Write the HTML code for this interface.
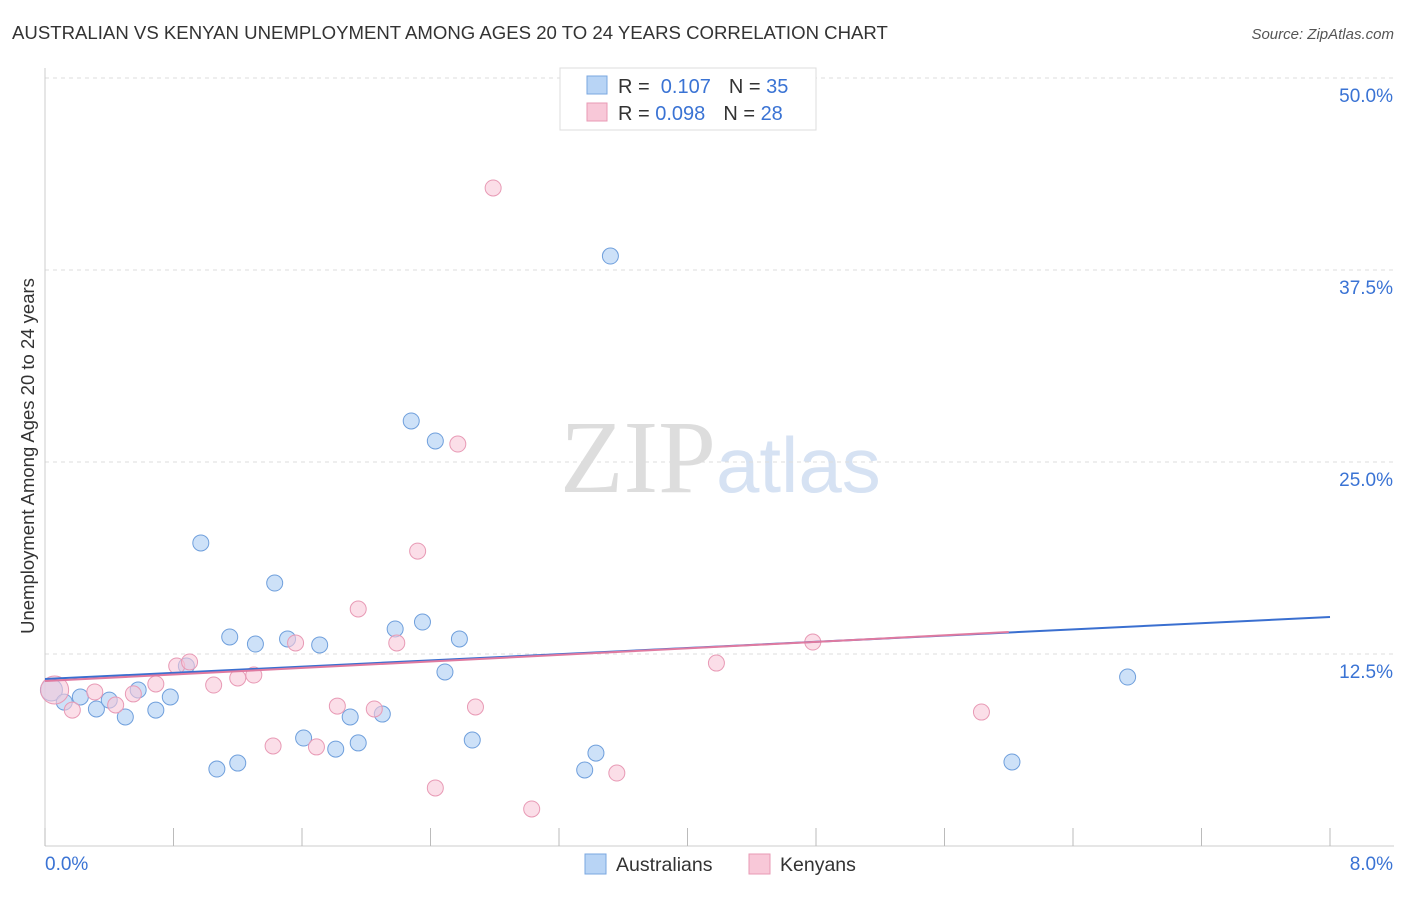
<!DOCTYPE html>
<html><head><meta charset="utf-8"><style>
body{margin:0;background:#fff;font-family:"Liberation Sans",sans-serif;}
</style></head><body>
<svg width="1406" height="892" xmlns="http://www.w3.org/2000/svg">
<text x="12" y="39" font-size="18.6" fill="#333">AUSTRALIAN VS KENYAN UNEMPLOYMENT AMONG AGES 20 TO 24 YEARS CORRELATION CHART</text>
<text x="1394" y="39" font-size="15" fill="#555" font-style="italic" text-anchor="end">Source: ZipAtlas.com</text>
<text x="716" y="492" font-size="104" fill="#ddd" font-family="Liberation Serif,serif" text-anchor="end">ZIP</text>
<text x="716" y="492" font-size="78" fill="#d6e2f3">atlas</text>
<g id="grid"></g>
<g id="axes"></g>
<g id="pts"></g>
<g id="lines"></g>
<text x="34" y="456" font-size="18.5" fill="#333" text-anchor="middle" transform="rotate(-90 34 456)">Unemployment Among Ages 20 to 24 years</text>
<g>
<rect x="560" y="68" width="256" height="62" fill="#fff" stroke="#ddd"/>
<rect x="587" y="76" width="20" height="18" fill="#b8d4f5" stroke="#7aa7e0"/>
<rect x="587" y="103" width="20" height="18" fill="#f8c8d8" stroke="#e89ab5"/>
<text x="618" y="93" font-size="20" fill="#333">R = <tspan fill="#3a73d4">&#160;0.107</tspan><tspan dx="18">N = </tspan><tspan fill="#3a73d4">35</tspan></text>
<text x="618" y="120" font-size="20" fill="#333">R = <tspan fill="#3a73d4">0.098</tspan><tspan dx="18">N = </tspan><tspan fill="#3a73d4">28</tspan></text>
</g>
<g>
<rect x="585" y="854" width="21" height="20" fill="#b8d4f5" stroke="#7aa7e0"/>
<text x="616" y="871" font-size="19.5" fill="#333">Australians</text>
<rect x="749" y="854" width="21" height="20" fill="#f8c8d8" stroke="#e89ab5"/>
<text x="780" y="871" font-size="19.5" fill="#333">Kenyans</text>
</g>
</svg>
<script>
const xTicks=[0,0.8,1.6,2.4,3.2,4,4.8,5.6,6.4,7.2,8];
const yTicks=[12.5,25,37.5,50];
const yTickLabels=["12.5%","25.0%","37.5%","50.0%"];
const ausX=[0.04,0.12,0.22,0.32,0.40,0.50,0.58,0.69,0.78,0.88,0.97,1.07,1.15,1.20,1.31,1.43,1.51,1.61,1.71,1.81,1.90,1.95,2.10,2.18,2.28,2.35,2.43,2.49,2.58,2.66,3.36,3.43,3.52,6.02,6.74];
const ausY=[10.16,9.37,9.70,8.92,9.50,8.40,10.16,8.85,9.70,11.72,19.73,5.01,13.61,5.40,13.15,17.12,13.48,7.03,13.09,6.31,8.40,6.71,8.59,14.13,27.67,14.58,26.37,11.33,13.48,6.90,4.95,6.05,38.41,5.47,11.00];
const kenX=[0.06,0.17,0.31,0.44,0.55,0.69,0.82,0.90,1.05,1.20,1.30,1.42,1.56,1.69,1.82,1.95,2.05,2.19,2.32,2.43,2.57,2.68,2.79,3.03,3.56,4.18,4.78,5.83];
const kenY=[10.16,8.85,10.03,9.18,9.90,10.55,11.72,11.98,10.48,10.94,11.13,6.51,13.22,6.45,9.11,15.43,8.92,13.22,19.20,3.78,26.17,9.05,42.84,2.41,4.75,11.91,13.28,8.72];
const ausTrend=[[0,10.87],[8,14.91]];
const kenTrend=[[0,10.74],[6.0,13.93]];
const NS="http://www.w3.org/2000/svg";
const X=v=>45+v/8*1285, Y=v=>846-v/12.5*192;
function mk(t,a,p){const e=document.createElementNS(NS,t);for(const k in a)e.setAttribute(k,a[k]);document.getElementById(p).appendChild(e);return e;}
yTicks.forEach((t,i)=>{
 const l=mk('line',{x1:45,x2:1394,y1:Y(t),y2:Y(t),stroke:'#ddd','stroke-dasharray':'4 4'},'grid');
 
 
 const tx=mk('text',{x:1393,y:Y(t)+24,'font-size':19,fill:'#3a73d4','text-anchor':'end'},'grid');
 tx.textContent=yTickLabels[i];
 
 
});
const ax=mk('line',{x1:45,x2:1394,y1:846,y2:846,stroke:'#ccc'},'axes');


const ay=mk('line',{x1:45,x2:45,y1:68,y2:846,stroke:'#ccc'},'axes');


xTicks.forEach(t=>{
 const l=mk('line',{x1:X(t),x2:X(t),y1:828,y2:846,stroke:'#bbb'},'axes');
 
 
});
const x0=mk('text',{x:45,y:870,'font-size':19,fill:'#3a73d4'},'axes');x0.textContent='0.0%';


const x1=mk('text',{x:1393,y:870,'font-size':19,fill:'#3a73d4','text-anchor':'end'},'axes');x1.textContent='8.0%';


ausX.forEach((v,i)=>{
 const c=mk('circle',{cx:X(v),cy:Y(ausY[i]),r:i==0?11:8,fill:'#b8d4f5','fill-opacity':0.7,stroke:'#6f9fdc'},'pts');
 
 
});
kenX.forEach((v,i)=>{
 const c=mk('circle',{cx:X(v),cy:Y(kenY[i]),r:i==0?14:8,fill:'#f8c8d8','fill-opacity':0.6,stroke:'#e89ab5'},'pts');
 
 
});
const la=mk('line',{x1:X(ausTrend[0][0]),y1:Y(ausTrend[0][1]),x2:X(ausTrend[1][0]),y2:Y(ausTrend[1][1]),stroke:'#3a6fd0','stroke-width':2},'lines');


const lk=mk('line',{x1:X(kenTrend[0][0]),y1:Y(kenTrend[0][1]),x2:X(kenTrend[1][0]),y2:Y(kenTrend[1][1]),stroke:'#e07aa0','stroke-width':2},'lines');


</script>
</body></html>
